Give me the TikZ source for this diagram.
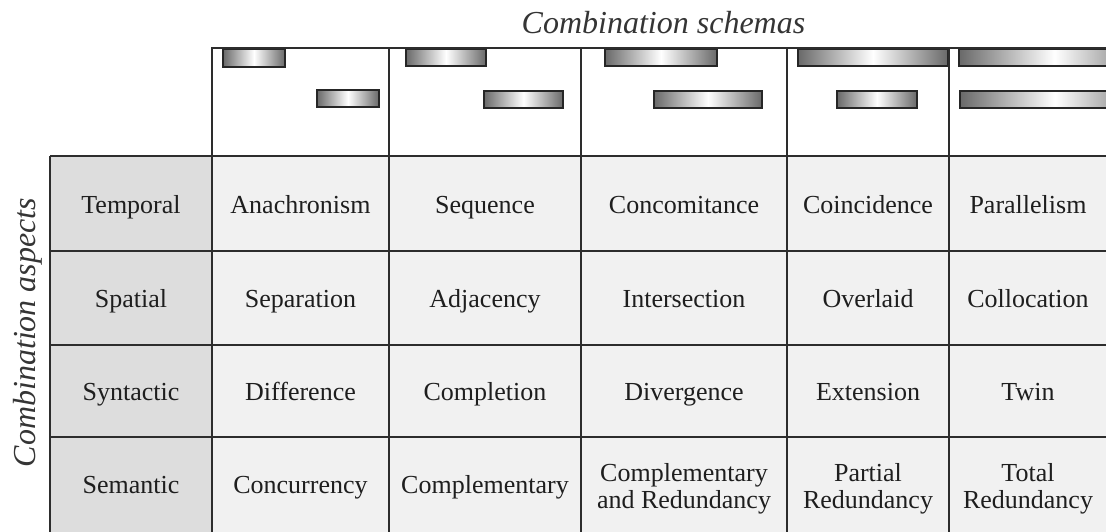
\documentclass[tikz,border=0pt]{standalone}
\usepackage{fontspec}
\setmainfont{Liberation Serif}
\definecolor{hdrgray}{RGB}{221,221,221}
\definecolor{cellgray}{RGB}{241,241,241}
\definecolor{ink}{RGB}{30,30,30}
\definecolor{rule}{RGB}{45,45,45}
\definecolor{barend}{RGB}{105,105,105}
\begin{document}
\begin{tikzpicture}[x=1pt,y=-1pt,
  cell/.style={align=center, text=ink, inner sep=0pt, anchor=base,
    font=\fontsize{26}{27}\selectfont},
  heading/.style={text=ink!90, inner sep=0pt, anchor=base,
    font=\fontsize{32}{36}\selectfont\itshape},
  gridline/.style={draw=rule, line width=1.6pt},
  bar/.style={draw=black!85, line width=1.4pt,
    left color=barend, right color=barend, middle color=white}]

\useasboundingbox (0,0) rectangle (1106,531);
\clip (0,0) rectangle (1106,531);

% cell backgrounds
\fill[white] (0,0) rectangle (1106,531);
\fill[hdrgray] (50,156) rectangle (212,540);
\fill[cellgray] (212,156) rectangle (1112,540);

% schema pictograms: two bars per column
\shade[bar] (223,49) rectangle (285,67);
\shade[bar] (317,90) rectangle (379,107);
\shade[bar] (406,49) rectangle (486,66);
\shade[bar] (484,91) rectangle (563,108);
\shade[bar] (605,49) rectangle (717,66);
\shade[bar] (654,91) rectangle (762,108);
\shade[bar] (798,49) rectangle (948,66);
\shade[bar] (837,91) rectangle (917,108);
\shade[bar] (959,49) rectangle (1150,66);
\shade[bar] (960,91) rectangle (1150,108);

% grid
\draw[gridline] (211,48) -- (1112,48);
\foreach \y in {156,251,345,437}
  \draw[gridline] (50,\y) -- (1112,\y);
\draw[gridline] (50,156) -- (50,540);
\foreach \x in {212,389,581,787,949}
  \draw[gridline] (\x,48) -- (\x,540);

% titles
\node[heading] (schemas) at (663.5,33) {Combination schemas};
\node[heading, rotate=90] (aspects) at (35,332.5) {Combination aspects};

% row headings
\node[cell] (temporal)  at (131,213)   {Temporal};
\node[cell] (spatial)   at (131,307.5) {Spatial};
\node[cell] (syntactic) at (131,400.5) {Syntactic};
\node[cell] (semantic)  at (131,493.5) {Semantic};

% temporal row
\node[cell] (t1) at (300.5,213) {Anachronism};
\node[cell] (t2) at (485,213)   {Sequence};
\node[cell] (t3) at (684,213)   {Concomitance};
\node[cell] (t4) at (868,213)   {Coincidence};
\node[cell] (t5) at (1028,213)  {Parallelism};

% spatial row
\node[cell] (s1) at (300.5,307.5) {Separation};
\node[cell] (s2) at (485,307.5)   {Adjacency};
\node[cell] (s3) at (684,307.5)   {Intersection};
\node[cell] (s4) at (868,307.5)   {Overlaid};
\node[cell] (s5) at (1028,307.5)  {Collocation};

% syntactic row
\node[cell] (y1) at (300.5,400.5) {Difference};
\node[cell] (y2) at (485,400.5)   {Completion};
\node[cell] (y3) at (684,400.5)   {Divergence};
\node[cell] (y4) at (868,400.5)   {Extension};
\node[cell] (y5) at (1028,400.5)  {Twin};

% semantic row (base anchor sits on the last line)
\node[cell] (m1) at (300.5,493.5) {Concurrency};
\node[cell] (m2) at (485,493.5)   {Complementary};
\node[cell] (m3) at (684,508)     {Complementary\\and Redundancy};
\node[cell] (m4) at (868,508)     {Partial\\Redundancy};
\node[cell] (m5) at (1028,508)    {Total\\Redundancy};
\end{tikzpicture}
\end{document}
